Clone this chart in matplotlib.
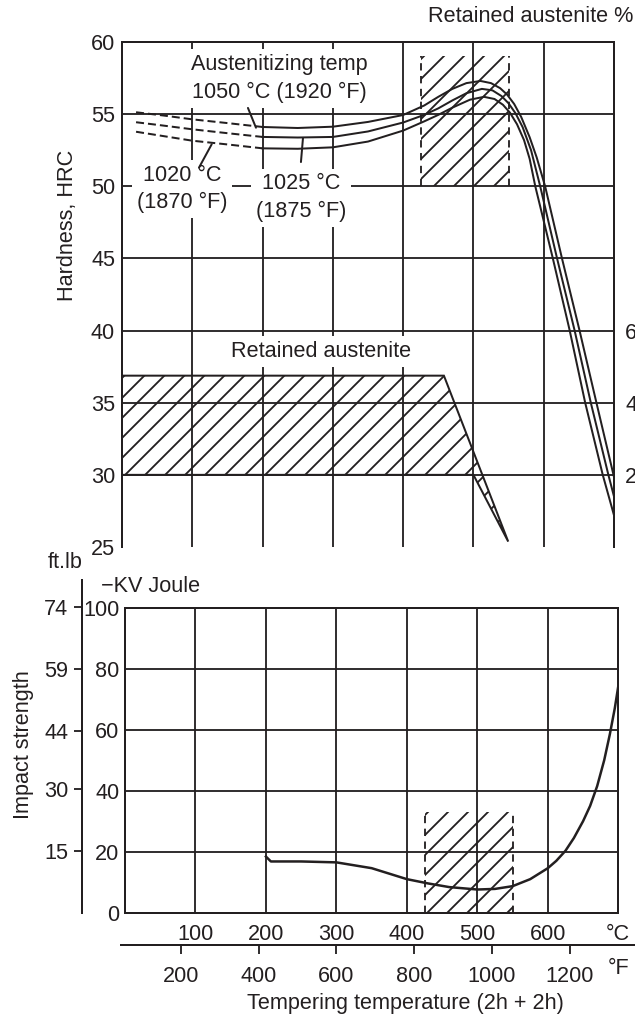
import numpy as np
import matplotlib.pyplot as plt

INK = '#231f20'
plt.rcParams['font.family'] = ['Liberation Sans', 'DejaVu Sans']
plt.rcParams['font.size'] = 13
plt.rcParams['text.color'] = INK
plt.rcParams['hatch.linewidth'] = 1.1
plt.rcParams['hatch.color'] = INK

W, H, DPI = 635, 1019, 120

# ---- data ----
hrc_ticks = [25, 30, 35, 40, 45, 50, 55, 60]
ra_ticks = [20, 40, 60]
temp_c_ticks = [100, 200, 300, 400, 500, 600]
temp_f_ticks = [200, 400, 600, 800, 1000, 1200]
joule_ticks = [0, 20, 40, 60, 80, 100]
ftlb_ticks = [74, 59, 44, 30, 15]

# hardness vs tempering temperature, dashed (below 200 C) and solid parts
dash_temp = [20, 60, 100, 150, 200]
hrc_1050_dash = [55.13, 54.9, 54.64, 54.38, 54.11]
hrc_1025_dash = [54.44, 54.2, 53.95, 53.68, 53.42]
hrc_1020_dash = [53.78, 53.47, 53.16, 52.9, 52.63]

temp_1050 = [200, 250, 300, 350, 400, 430, 450, 470, 490, 510, 525, 538, 548, 558, 568, 580, 590, 602,
             626, 651, 675, 700]
hrc_1050 = [54.11, 54.04, 54.13, 54.46, 54.94, 55.6, 56.2, 56.75, 57.15, 57.3, 57.15, 56.8, 56.35, 55.7,
            54.8, 53.4, 52.0, 50.0, 45.0, 40.0, 35.0, 29.85]
temp_1025 = [200, 250, 300, 350, 400, 430, 450, 470, 490, 512, 527, 540, 550, 560, 570, 582, 595,
             619, 644, 667, 692, 700]
hrc_1025 = [53.42, 53.38, 53.42, 53.8, 54.42, 54.95, 55.4, 55.95, 56.45, 56.75, 56.65, 56.25, 55.75,
            55.05, 54.1, 52.5, 50.0, 45.0, 40.0, 35.0, 30.0, 28.5]
temp_1020 = [200, 250, 300, 350, 400, 430, 450, 470, 495, 515, 530, 542, 552, 562, 572, 580, 588,
             613, 637, 659, 684, 700]
hrc_1020 = [52.63, 52.6, 52.7, 53.1, 53.86, 54.5, 54.95, 55.45, 56.0, 56.2, 56.05, 55.65, 55.1,
            54.3, 53.2, 51.9, 50.0, 45.0, 40.0, 35.0, 30.0, 27.2]

# retained austenite band (%), upper and lower edges
ra_upper_temp = [0, 458, 549.5]
ra_upper_pct = [47.5, 47.5, 1.5]
ra_lower_temp = [0, 500, 549.5]
ra_lower_pct = [20, 20, 1.5]

# recommended tempering window
window_temp = [425, 550]
window_hrc = [50, 59]
window_joule = [0, 33]

# impact strength (KV, Joule)
impact_temp = [200, 207, 250, 300, 350, 400, 430, 460, 500, 525, 550, 575, 600, 612, 625, 637, 650,
               660, 670, 680, 688, 695, 700]
impact_j = [18.4, 16.8, 16.8, 16.5, 14.6, 11.0, 9.6, 8.4, 7.6, 7.8, 8.7, 11.0, 14.6, 17.0, 20.3, 24.5,
            30.0, 35.0, 41.5, 50.0, 58.5, 67.0, 74.3]

FT_LB_TO_J = 1.3558

fig = plt.figure(figsize=(W / DPI, H / DPI), dpi=DPI)


def px_box(l, t, r, b):
    return [l / W, 1 - b / H, (r - l) / W, (b - t) / H]


# ---- hardness chart ----
ax = fig.add_axes(px_box(122, 42, 614, 547))
ax.set_xlim(0, 700)
ax.set_ylim(25, 60)
ax.spines['bottom'].set_visible(False)
for s in ax.spines.values():
    s.set_linewidth(1.2)
    s.set_color(INK)
ax.set_xticks(temp_c_ticks)
ax.set_xticklabels([])
ax.tick_params(axis='x', length=0)
ax.set_yticks(hrc_ticks)
ax.tick_params(axis='y', length=0, pad=4.2, labelcolor=INK)
ax.grid(axis='x', color=INK, lw=1.1)
for h in hrc_ticks[1:-1]:
    ax.axhline(h, color=INK, lw=1.1, zorder=1.5)

ax.fill_between(window_temp, window_hrc[0], window_hrc[1], facecolor='none',
                edgecolor=INK, linewidth=0, hatch='//', zorder=1)
ax.vlines(window_temp, window_hrc[0], window_hrc[1], colors=INK, lw=1.1,
          linestyles=[(0, (4, 3))], zorder=1.6)

for dt, dh, st, sh in [(dash_temp, hrc_1050_dash, temp_1050, hrc_1050),
                       (dash_temp, hrc_1025_dash, temp_1025, hrc_1025),
                       (dash_temp, hrc_1020_dash, temp_1020, hrc_1020)]:
    ax.plot(dt, dh, color=INK, lw=1.2, ls=(0, (4, 2)), zorder=2)
    ax.plot(st, sh, color=INK, lw=1.2, solid_joinstyle='round', zorder=2)

box = dict(facecolor='white', edgecolor='none', pad=3)
ax.text(223.3, 57.48, "Austenitizing temp\n1050 °C (1920 °F)", ha='center', va='center',
        linespacing=1.45, bbox=box, zorder=3)
ax.text(85.3, 49.8, "1020 °C\n(1870 °F)", ha='center', va='center',
        linespacing=1.37, bbox=box, zorder=3)
ax.text(254.6, 49.22, "1025 °C\n(1875 °F)", ha='center', va='center',
        linespacing=1.37, bbox=box, zorder=3)
ax.text(283.8, 38.54, "Retained austenite", ha='center', va='center', bbox=box, zorder=3)

lead = dict(arrowstyle='-', color=INK, lw=1.2, shrinkA=0, shrinkB=0)
ax.annotate('', xy=(190.6, 54.06), xytext=(179.2, 55.43), arrowprops=lead)
ax.annotate('', xy=(127.6, 52.91), xytext=(109.5, 51.29), arrowprops=lead)
ax.annotate('', xy=(257.5, 53.35), xytext=(254.6, 51.68), arrowprops=lead)

# retained austenite on a twin scale
ax2 = ax.twinx()
ax2.set_ylim(0, 140)
for s in ax2.spines.values():
    s.set_visible(False)
ax2.set_yticks(ra_ticks)
ax2.tick_params(axis='y', length=0, pad=6.6, labelcolor=INK)
poly_t = np.concatenate([ra_upper_temp, ra_lower_temp[::-1]])
poly_p = np.concatenate([ra_upper_pct, ra_lower_pct[::-1]])
ax2.fill(poly_t, poly_p, facecolor='none', edgecolor=INK, lw=1.2, hatch='//')

# ---- impact chart ----
axb = fig.add_axes(px_box(125, 607.7, 618.3, 912.7))
axb.set_xlim(0, 700)
axb.set_ylim(0, 100)
for s in axb.spines.values():
    s.set_linewidth(1.2)
    s.set_color(INK)
axb.set_xticks(temp_c_ticks + [700])
axb.set_xticklabels([str(t) for t in temp_c_ticks] + ['°C'])
axb.set_yticks(joule_ticks)
axb.tick_params(axis='x', length=0, pad=7.0, labelcolor=INK)
axb.tick_params(axis='y', length=0, pad=3.4, labelcolor=INK)
axb.grid(True, color=INK, lw=1.1)
axb.fill_between(window_temp, window_joule[0], window_joule[1], facecolor='none',
                 edgecolor=INK, linewidth=0, hatch='//', zorder=1)
axb.vlines(window_temp, window_joule[0], window_joule[1], colors=INK, lw=1.1,
           linestyles=[(0, (4, 3))], zorder=1.6)
axb.plot(impact_temp, impact_j, color=INK, lw=1.5, solid_joinstyle='round', zorder=2)

# ft.lb scale
axf = fig.add_axes(px_box(82, 580, 83, 913))
axf.set_ylim(0, 333 / 3.05)
axf.patch.set_visible(False)
for k in ['top', 'right', 'bottom']:
    axf.spines[k].set_visible(False)
axf.spines['left'].set_linewidth(1.2)
axf.spines['left'].set_color(INK)
axf.set_xticks([])
axf.set_yticks([f * FT_LB_TO_J for f in ftlb_ticks])
axf.set_yticklabels([str(f) for f in ftlb_ticks])
axf.tick_params(axis='y', length=4.8, width=1.1, color=INK, pad=3.4, labelcolor=INK)

# Fahrenheit scale
axF = fig.add_axes([121.5 / W, 1 - 945 / H, (W - 121.5) / W, 0.0001])
axF.set_xlim(46.8, 1368.6)
axF.patch.set_visible(False)
for k in ['top', 'right', 'left']:
    axF.spines[k].set_visible(False)
axF.spines['bottom'].set_linewidth(1.2)
axF.spines['bottom'].set_color(INK)
axF.set_yticks([])
axF.set_xticks(temp_f_ticks)
axF.tick_params(axis='x', length=5.4, width=1.1, color=INK, pad=7.2, labelcolor=INK)

# labels
fig.text(619 / W, 1 - 968 / H, '°F', ha='center', va='center')
fig.text(405 / W, 1 - 1003 / H, 'Tempering temperature (2h + 2h)', ha='center', va='center')
fig.text(65 / W, 1 - 563 / H, 'ft.lb', ha='center', va='center')
fig.text(101 / W, 1 - 587 / H, '\u2212KV Joule', ha='left', va='center')
fig.text(428 / W, 1 - 16 / H, 'Retained austenite %', ha='left', va='center')
fig.text(67 / W, 1 - 225 / H, 'Hardness, HRC', rotation=90, ha='center', va='center')
fig.text(24 / W, 1 - 745 / H, 'Impact strength', rotation=90, ha='center', va='center')

fig.savefig('out.png', dpi=DPI)
